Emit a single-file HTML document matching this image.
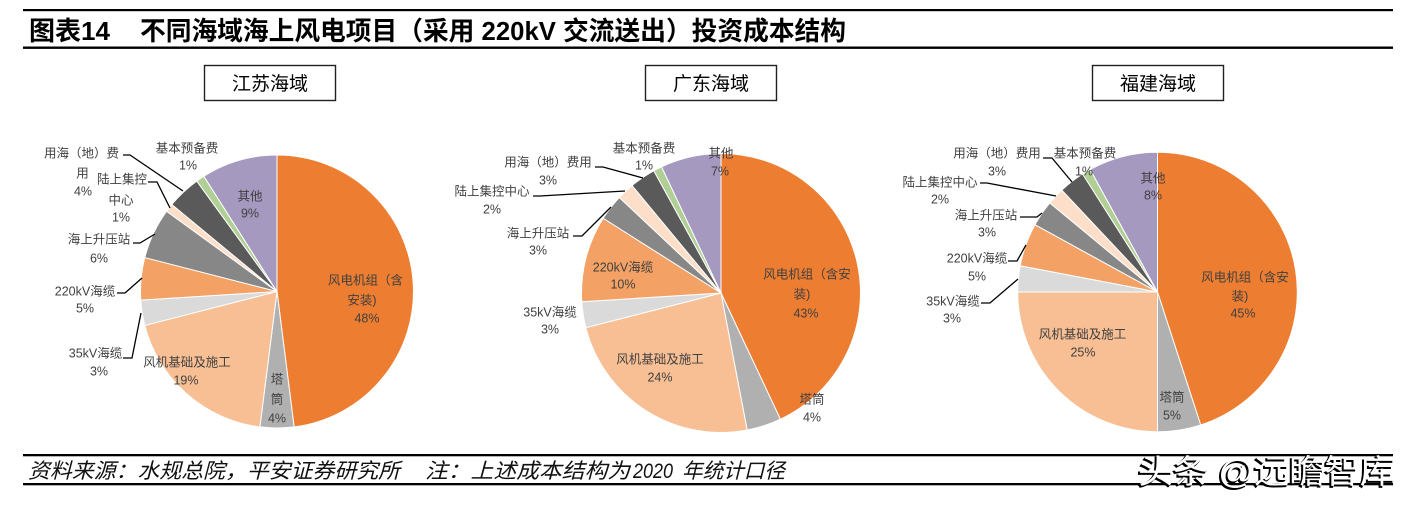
<!DOCTYPE html>
<html><head><meta charset="utf-8"><style>
html,body{margin:0;padding:0;background:#fff;}
svg{display:block;}
.l{font-family:"Liberation Sans","Noto Sans CJK SC",sans-serif;font-size:12.5px;fill:#404040;text-anchor:middle;}
.b{font-family:"Liberation Sans","Noto Sans CJK SC",sans-serif;font-size:19px;fill:#000;text-anchor:middle;}
.ld{fill:none;stroke:#000;stroke-width:1.3;}
.s path{stroke:#fff;stroke-width:1;}
</style></head><body>
<svg width="1412" height="506" viewBox="0 0 1412 506" xmlns="http://www.w3.org/2000/svg">
<rect width="1412" height="506" fill="#fff"/>
<!-- title -->
<rect x="23" y="9" width="1370" height="2.2" fill="#000"/>
<rect x="23" y="46.5" width="1370" height="2.4" fill="#000"/>
<text x="29" y="40" font-family="Liberation Sans,'Noto Sans CJK SC',sans-serif" font-weight="bold" font-size="26" textLength="81" lengthAdjust="spacingAndGlyphs">图表14</text>
<text x="140" y="40" font-family="Liberation Sans,'Noto Sans CJK SC',sans-serif" font-weight="bold" font-size="26" textLength="706" lengthAdjust="spacingAndGlyphs">不同海域海上风电项目（采用 220kV 交流送出）投资成本结构</text>

<!-- region boxes -->
<rect x="204.5" y="65.5" width="131" height="35" fill="#fff" stroke="#222" stroke-width="1.4"/>
<text class="b" x="270" y="90">江苏海域</text>
<rect x="645.5" y="65.5" width="131" height="35" fill="#fff" stroke="#222" stroke-width="1.4"/>
<text class="b" x="711" y="90">广东海域</text>
<rect x="1092.5" y="65.5" width="131" height="35" fill="#fff" stroke="#222" stroke-width="1.4"/>
<text class="b" x="1158" y="90">福建海域</text>

<!-- Pie 1 -->
<g class="s">
<path fill="#ED7D31" d="M277,291.5 L277,155 A136.5,136.5 0 0 1 294.11,426.92 Z"/>
<path fill="#B0B0B0" d="M277,291.5 L294.11,426.92 A136.5,136.5 0 0 1 259.89,426.92 Z"/>
<path fill="#F8BF94" d="M277,291.5 L259.89,426.92 A136.5,136.5 0 0 1 144.79,325.45 Z"/>
<path fill="#DADADA" d="M277,291.5 L144.79,325.45 A136.5,136.5 0 0 1 140.77,300.07 Z"/>
<path fill="#F3A165" d="M277,291.5 L140.77,300.07 A136.5,136.5 0 0 1 144.79,257.55 Z"/>
<path fill="#878787" d="M277,291.5 L144.79,257.55 A136.5,136.5 0 0 1 166.57,211.27 Z"/>
<path fill="#FCDEC9" d="M277,291.5 L166.57,211.27 A136.5,136.5 0 0 1 171.83,204.49 Z"/>
<path fill="#5A5A5A" d="M277,291.5 L171.83,204.49 A136.5,136.5 0 0 1 196.77,181.07 Z"/>
<path fill="#B0CF95" d="M277,291.5 L196.77,181.07 A136.5,136.5 0 0 1 203.86,176.25 Z"/>
<path fill="#A699C0" d="M277,291.5 L203.86,176.25 A136.5,136.5 0 0 1 277,155 Z"/>
</g>
<polyline class="ld" points="123,155 130,155 183,191"/>
<polyline class="ld" points="148,182 157,182 170,208"/>
<polyline class="ld" points="133,243 140,243 155,234"/>
<polyline class="ld" points="117,293 125,293 142,278"/>
<polyline class="ld" points="123,358 132,358 141,313"/>
<text class="l" x="187" y="152.5">基本预备费</text><text class="l" x="188" y="169.5">1%</text>
<text class="l" x="81.5" y="157.5">用海（地）费</text><text class="l" x="82.5" y="177.5">用</text><text class="l" x="83" y="195.5">4%</text>
<text class="l" x="122" y="183.5">陆上集控</text><text class="l" x="121" y="204.5">中心</text><text class="l" x="121" y="221.5">1%</text>
<text class="l" x="99" y="243.5">海上升压站</text><text class="l" x="99" y="262.5">6%</text>
<text class="l" x="85" y="295.5">220kV海缆</text><text class="l" x="85" y="312.5">5%</text>
<text class="l" x="95.5" y="357.5">35kV海缆</text><text class="l" x="99" y="375.5">3%</text>
<text class="l" x="187" y="366.5">风机基础及施工</text><text class="l" x="186" y="384.5">19%</text>
<text class="l" x="277" y="383.5">塔</text><text class="l" x="277" y="403.5">筒</text><text class="l" x="277" y="422.5">4%</text>
<text class="l" x="365.5" y="284.5">风电机组（含</text><text class="l" x="362" y="304.5">安装)</text><text class="l" x="367" y="322.5">48%</text>
<text class="l" x="250" y="200.5">其他</text><text class="l" x="250" y="217.5">9%</text>

<!-- Pie 2 -->
<g class="s">
<path fill="#ED7D31" d="M721,293 L721,153.5 A139.5,139.5 0 0 1 780.40,419.22 Z"/>
<path fill="#B0B0B0" d="M721,293 L780.40,419.22 A139.5,139.5 0 0 1 747.14,430.03 Z"/>
<path fill="#F8BF94" d="M721,293 L747.14,430.03 A139.5,139.5 0 0 1 585.88,327.69 Z"/>
<path fill="#DADADA" d="M721,293 L585.88,327.69 A139.5,139.5 0 0 1 581.77,301.76 Z"/>
<path fill="#F3A165" d="M721,293 L581.77,301.76 A139.5,139.5 0 0 1 603.22,218.25 Z"/>
<path fill="#878787" d="M721,293 L603.22,218.25 A139.5,139.5 0 0 1 619.31,197.51 Z"/>
<path fill="#FCDEC9" d="M721,293 L619.31,197.51 A139.5,139.5 0 0 1 632.08,185.51 Z"/>
<path fill="#5A5A5A" d="M721,293 L632.08,185.51 A139.5,139.5 0 0 1 653.80,170.75 Z"/>
<path fill="#B0CF95" d="M721,293 L653.80,170.75 A139.5,139.5 0 0 1 661.60,166.78 Z"/>
<path fill="#A699C0" d="M721,293 L661.60,166.78 A139.5,139.5 0 0 1 721,153.5 Z"/>
</g>
<polyline class="ld" points="595,167 603,167 643,178"/>
<polyline class="ld" points="533,196 540,196 625,191"/>
<polyline class="ld" points="573,236 582,236 611,207"/>
<text class="l" x="644" y="152.5">基本预备费</text><text class="l" x="644" y="169.5">1%</text>
<text class="l" x="721" y="157.5">其他</text><text class="l" x="720" y="175.5">7%</text>
<text class="l" x="548" y="166.5">用海（地）费用</text><text class="l" x="548" y="184.5">3%</text>
<text class="l" x="492" y="195.5">陆上集控中心</text><text class="l" x="492" y="213.5">2%</text>
<text class="l" x="538" y="237.5">海上升压站</text><text class="l" x="538" y="254.5">3%</text>
<text class="l" x="623" y="271.5">220kV海缆</text><text class="l" x="623" y="288.5">10%</text>
<text class="l" x="550" y="316.5">35kV海缆</text><text class="l" x="550" y="333.5">3%</text>
<text class="l" x="660" y="363.5">风机基础及施工</text><text class="l" x="660" y="381.5">24%</text>
<text class="l" x="812" y="403.5">塔筒</text><text class="l" x="812" y="421.5">4%</text>
<text class="l" x="807" y="278.5">风电机组（含安</text><text class="l" x="802" y="298.5">装)</text><text class="l" x="806" y="317.5">43%</text>

<!-- Pie 3 -->
<g class="s">
<path fill="#ED7D31" d="M1157.5,292 L1157.5,152.2 A139.8,139.8 0 0 1 1200.70,424.96 Z"/>
<path fill="#B0B0B0" d="M1157.5,292 L1200.70,424.96 A139.8,139.8 0 0 1 1157.5,431.8 Z"/>
<path fill="#F8BF94" d="M1157.5,292 L1157.5,431.8 A139.8,139.8 0 0 1 1017.7,292 Z"/>
<path fill="#DADADA" d="M1157.5,292 L1017.7,292 A139.8,139.8 0 0 1 1020.18,265.80 Z"/>
<path fill="#F3A165" d="M1157.5,292 L1020.18,265.80 A139.8,139.8 0 0 1 1034.99,224.65 Z"/>
<path fill="#878787" d="M1157.5,292 L1034.99,224.65 A139.8,139.8 0 0 1 1049.78,202.89 Z"/>
<path fill="#FCDEC9" d="M1157.5,292 L1049.78,202.89 A139.8,139.8 0 0 1 1061.80,190.09 Z"/>
<path fill="#5A5A5A" d="M1157.5,292 L1061.80,190.09 A139.8,139.8 0 0 1 1082.59,173.96 Z"/>
<path fill="#B0CF95" d="M1157.5,292 L1082.59,173.96 A139.8,139.8 0 0 1 1090.15,169.49 Z"/>
<path fill="#A699C0" d="M1157.5,292 L1090.15,169.49 A139.8,139.8 0 0 1 1157.5,152.2 Z"/>
</g>
<polyline class="ld" points="1043,158 1052,158 1072,182"/>
<polyline class="ld" points="980,183 987,183 1056,196"/>
<polyline class="ld" points="1020,217 1037,217 1042,213"/>
<polyline class="ld" points="1008,261 1017,261 1026,245"/>
<polyline class="ld" points="981,303 990,303 1018,279"/>
<text class="l" x="997" y="157.5">用海（地）费用</text><text class="l" x="997" y="175.5">3%</text>
<text class="l" x="1085" y="157.5">基本预备费</text><text class="l" x="1084" y="175.5">1%</text>
<text class="l" x="940" y="186.5">陆上集控中心</text><text class="l" x="940" y="203.5">2%</text>
<text class="l" x="986" y="219.5">海上升压站</text><text class="l" x="987" y="236.5">3%</text>
<text class="l" x="977" y="262.5">220kV海缆</text><text class="l" x="977" y="280.5">5%</text>
<text class="l" x="953" y="305.5">35kV海缆</text><text class="l" x="952" y="322.5">3%</text>
<text class="l" x="1082.5" y="338.5">风机基础及施工</text><text class="l" x="1083" y="356.5">25%</text>
<text class="l" x="1172" y="401.5">塔筒</text><text class="l" x="1172" y="419.5">5%</text>
<text class="l" x="1245" y="281.5">风电机组（含安</text><text class="l" x="1240" y="300.5">装)</text><text class="l" x="1243" y="317.5">45%</text>
<text class="l" x="1153" y="182.5">其他</text><text class="l" x="1153" y="199.5">8%</text>

<!-- footer -->
<rect x="23" y="454" width="1370" height="2.3" fill="#000"/>
<rect x="23" y="483" width="1370" height="2.3" fill="#000"/>
<g font-family="Liberation Sans,'Noto Sans CJK SC',sans-serif" font-style="italic" font-size="21" fill="#111">
<text x="28" y="478" textLength="372" lengthAdjust="spacingAndGlyphs">资料来源：水规总院，平安证券研究所</text>
<text x="425" y="478" textLength="205" lengthAdjust="spacingAndGlyphs">注：上述成本结构为</text>
<text x="633" y="478" textLength="40" lengthAdjust="spacingAndGlyphs">2020</text>
<text x="682" y="478" textLength="103" lengthAdjust="spacingAndGlyphs">年统计口径</text>
</g>
<!-- watermark -->
<g font-family="Liberation Sans,'Noto Sans CJK SC',sans-serif" font-size="33">
<text x="1136.5" y="484.5" fill="#000" stroke="#000" stroke-width="1" textLength="257" lengthAdjust="spacingAndGlyphs">头条 @远瞻智库</text>
<text x="1138" y="483" fill="#fff" textLength="257" lengthAdjust="spacingAndGlyphs">头条 @远瞻智库</text>
</g>
</svg>
</body></html>
